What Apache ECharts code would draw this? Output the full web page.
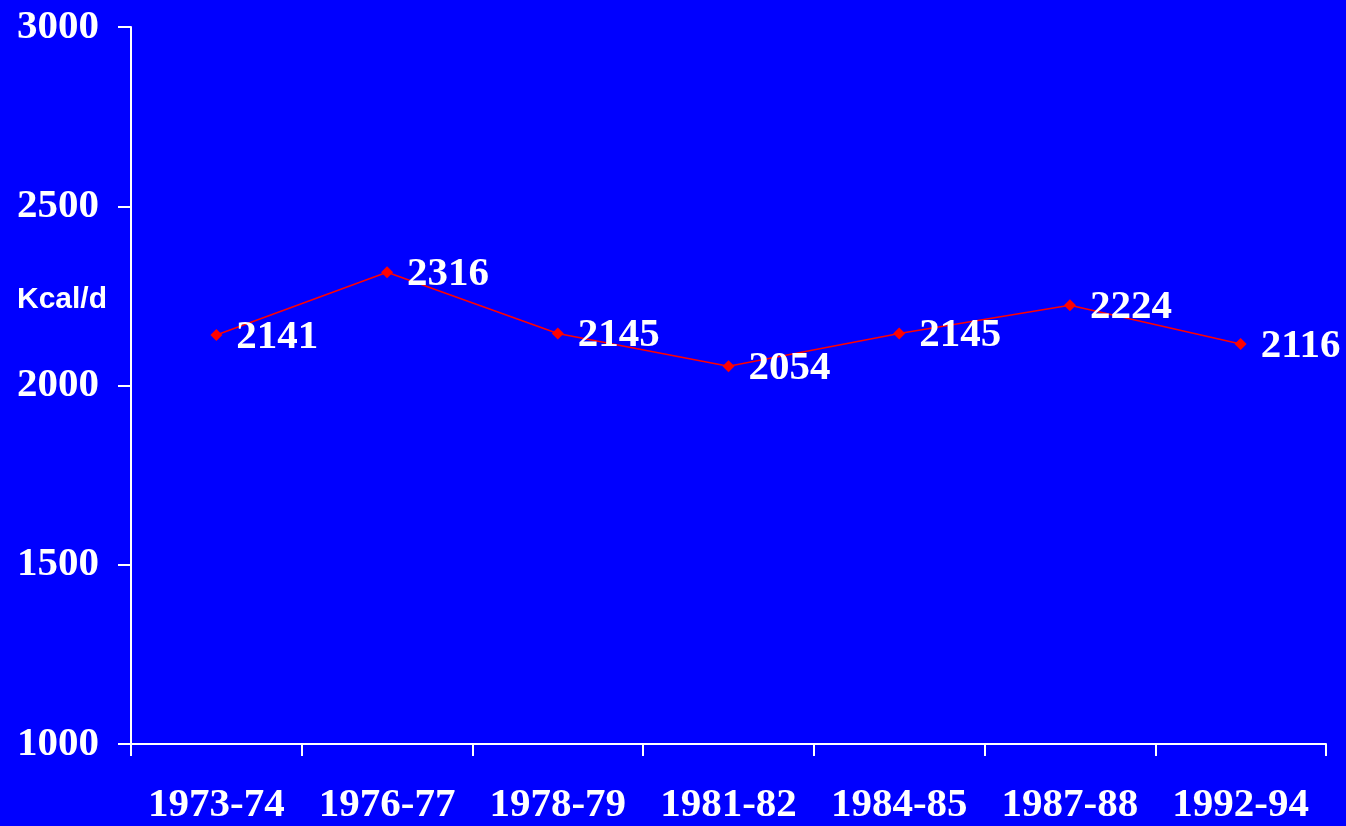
<!DOCTYPE html>
<html>
<head>
<meta charset="utf-8">
<script src="https://cdn.jsdelivr.net/npm/echarts@6/dist/echarts.min.js"></script>
<style>
  html, body { margin: 0; padding: 0; background: #0000ff; }
  #chart { width: 1346px; height: 826px; }
</style>
</head>
<body>
<div id="chart"></div>
<script>
// survey periods
const periods = ["1973-74", "1976-77", "1978-79", "1981-82", "1984-85", "1987-88", "1992-94"];
// energy intake, kcal per day
const kcal = [2141, 2316, 2145, 2054, 2145, 2224, 2116];
const yMin = 1000;
const yMax = 3000;
const yStep = 500;

const chart = echarts.init(document.getElementById("chart"));
const serif = "'Liberation Serif', 'Times New Roman', serif";

chart.setOption({
  backgroundColor: "#0000ff",
  animation: false,
  grid: { left: 131, right: 20, top: 27, bottom: 80 },
  graphic: [
    {
      type: "text",
      left: 17,
      top: 285,
      style: {
        text: "Kcal/d",
        fill: "#ffffff",
        font: "bold 30px 'Liberation Sans', Arial, sans-serif",
      },
    },
  ],
  xAxis: {
    type: "category",
    data: periods,
    boundaryGap: true,
    axisLine: { lineStyle: { color: "#ffffff", width: 2 } },
    axisTick: { show: true, interval: 0, length: 12, lineStyle: { color: "#ffffff", width: 2 } },
    axisLabel: {
      interval: 0,
      color: "#ffffff",
      fontFamily: serif,
      fontWeight: "bold",
      fontSize: 41,
      margin: 41,
    },
  },
  yAxis: {
    type: "value",
    min: yMin,
    max: yMax,
    interval: yStep,
    splitLine: { show: false },
    axisLine: { show: true, lineStyle: { color: "#ffffff", width: 2 } },
    axisTick: { show: true, length: 13, lineStyle: { color: "#ffffff", width: 2 } },
    axisLabel: {
      formatter: (v) => String(v),
      color: "#ffffff",
      fontFamily: serif,
      fontWeight: "bold",
      fontSize: 41,
      margin: 32,
    },
  },
  series: [
    {
      type: "line",
      data: kcal,
      symbol: "diamond",
      symbolSize: 12,
      itemStyle: { color: "#ff0000" },
      lineStyle: { color: "#ff0000", width: 1.5 },
      label: {
        show: true,
        position: "right",
        distance: 14,
        offset: [0, 2],
        color: "#ffffff",
        fontFamily: serif,
        fontWeight: "bold",
        fontSize: 41,
      },
    },
  ],
});
</script>
</body>
</html>
